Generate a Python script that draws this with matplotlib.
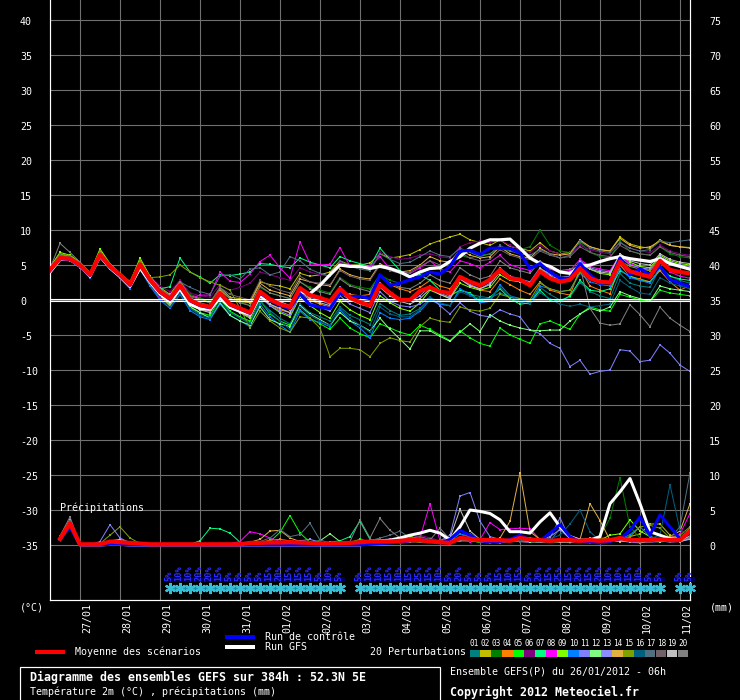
import matplotlib.pyplot as plt
import matplotlib.transforms as mtransforms
from matplotlib.patches import Rectangle
from matplotlib.lines import Line2D
import numpy as np

plt.rcParams['font.family'] = ['DejaVu Sans Mono']

# GEFS run of 26/01/2012 06h, 6-hourly steps up to 384h
hours = np.arange(0, 385, 6)
rain_hours = hours[1:]

day_hours = np.arange(18, 384, 24)
day_labels = ['27/01', '28/01', '29/01', '30/01', '31/01', '01/02', '02/02',
              '03/02', '04/02', '05/02', '06/02', '07/02', '08/02', '09/02',
              '10/02', '11/02']

temp_ticks = list(range(-35, 41, 5))
rain_ticks = list(range(0, 76, 5))
rain_offset = -35  # 0 mm sits on the -35 degC line

# --- 2m temperature (degC) ---
t_mean = [4.3, 6.0, 5.9, 5.0, 3.6, 6.5, 4.8, 3.6, 2.2,
          5.1, 2.9, 1.2, 0.2, 2.1, 0.0, -0.7, -1.0,
          1.0, -0.6, -1.2, -1.8, 1.2, 0.1, -0.6, -1.0,
          1.7, 0.7, 0.3, -0.2, 1.6, 0.3, -0.3, -0.8,
          2.2, 1.0, 0.0, 0.0, 1.3, 1.8, 1.2, 1.0,
          3.3, 2.6, 2.1, 2.9, 4.3, 3.1, 2.9, 2.1,
          4.1, 3.1, 2.6, 2.9, 4.5, 3.1, 2.6, 2.5,
          5.5, 4.1, 3.7, 3.3, 5.6, 4.3, 4.0, 3.8]
t_control = [4.2, 5.9, 5.8, 4.9, 3.5, 6.4, 4.7, 3.5, 2.1,
             5.0, 2.8, 1.1, 0.1, 2.0, -0.1, -0.8, -1.1,
             0.9, -0.7, -1.3, -1.9, 1.0, 0.0, -0.8, -1.2,
             0.9, -0.7, -1.0, -1.2, 1.0, 0.5, 0.5, 0.2,
             3.6, 2.1, 2.4, 2.9, 3.3, 4.0, 3.7, 4.8,
             7.0, 7.1, 6.5, 7.4, 7.4, 7.4, 6.7, 4.5,
             5.2, 4.0, 3.1, 3.1, 5.2, 3.6, 2.4, 2.6,
             6.0, 3.6, 4.5, 3.6, 4.8, 2.9, 2.4, 1.9]
t_gfs = [4.0, 5.8, 5.8, 4.9, 3.4, 6.3, 4.6, 3.4, 2.0,
         4.6, 2.6, 0.9, -0.2, 1.6, -0.6, -1.2, -1.3,
         0.3, -1.0, -1.6, -2.0, 0.6, 0.0, -0.4, -1.0,
         1.2, 0.9, 2.1, 3.6, 5.0, 4.8, 4.8, 4.5,
         4.8, 4.5, 4.0, 3.3, 4.0, 4.5, 4.6, 5.5,
         6.2, 7.4, 8.1, 8.6, 8.6, 8.7, 7.4, 6.0,
         5.2, 4.8, 4.0, 3.8, 4.8, 5.0, 5.5, 5.9,
         6.2, 5.9, 5.7, 5.5, 5.9, 5.2, 4.8, 4.4]

t_p01 = [4.0, 5.8, 5.7, 4.8, 3.3, 6.2, 4.5, 3.2, 1.7,
         4.6, 2.2, 0.2, -0.9, 1.0, -1.2, -2.0, -2.4,
         -0.3, -1.8, -2.5, -3.2, -0.2, -1.5, -2.6, -3.4,
         -0.6, -1.8, -2.4, -3.0, -1.0, -2.2, -2.8, -3.5,
         -0.5, -1.5, -2.2, -2.0, -1.2, 0.2, -0.6, -0.8,
         1.5, 0.8, 0.5, 0.3, 1.0, 0.5, -0.3, -0.6,
         1.8, 0.8, 0.0, 0.4, 2.5, 1.2, 0.6, 0.2,
         3.8, 2.4, 2.0, 1.8, 4.6, 3.4, 2.8, 2.4]
t_p02 = [4.6, 6.5, 6.2, 5.2, 3.8, 6.8, 5.0, 3.8, 2.6,
         5.4, 3.2, 1.8, 0.8, 2.8, 0.6, 0.2, -0.4,
         1.8, 0.4, 0.2, -0.3, 2.6, 2.2, 2.0, 1.6,
         3.8, 3.4, 3.6, 4.0, 5.6, 5.0, 5.0, 5.3,
         6.6, 6.0, 6.2, 6.5, 7.2, 8.0, 8.5, 9.0,
         9.4, 8.6, 8.2, 7.8, 8.6, 7.6, 7.4, 7.0,
         8.2, 7.0, 6.6, 6.8, 8.4, 7.6, 7.2, 7.0,
         9.0, 8.0, 7.6, 7.4, 8.6, 7.8, 7.6, 7.5]
t_p03 = [4.2, 5.9, 5.8, 4.9, 3.5, 6.4, 4.7, 3.4, 2.0,
         5.0, 2.8, 1.4, 0.4, 2.4, 0.8, 0.3, -0.2,
         1.6, 0.2, -0.2, -0.8, 1.8, 1.0, 0.6, 0.2,
         2.6, 1.8, 1.4, 1.0, 3.2, 2.2, 1.8, 1.6,
         3.6, 2.8, 2.4, 2.8, 3.6, 4.6, 4.8, 5.0,
         6.4, 6.0, 6.4, 6.6, 7.4, 7.0, 7.2, 7.6,
         10.0, 7.8, 7.0, 6.8, 8.2, 6.8, 6.2, 6.0,
         8.4, 7.0, 6.6, 6.4, 7.6, 6.6, 6.2, 6.0]
t_p04 = [4.5, 6.2, 6.0, 5.1, 3.7, 6.6, 4.9, 3.5, 2.1,
         4.9, 2.4, 0.6, -0.8, 1.6, -0.6, -1.4, -1.6,
         0.6, -1.0, -1.6, -2.2, 0.6, -0.6, -1.4, -1.8,
         1.0, 0.0, -0.6, -1.0, 1.2, 0.8, 0.6, 0.8,
         3.4, 2.2, 1.6, 1.2, 1.8, 2.8, 2.0, 1.6,
         3.4, 2.2, 1.4, 1.2, 3.0, 2.2, 1.4, 0.8,
         2.6, 1.4, 1.0, 0.7, 4.5, 2.0, 1.4, 0.9,
         5.0, 3.4, 3.0, 2.6, 4.2, 2.6, 1.4, 2.1]
t_p05 = [4.4, 6.6, 6.2, 5.3, 3.9, 7.0, 5.0, 3.8, 2.6,
         5.6, 2.8, 0.8, -0.6, 1.4, -0.9, -1.8, -2.2,
         0.2, -1.6, -2.4, -3.0, 0.0, -2.0, -3.0, -3.6,
         -1.4, -2.6, -3.4, -4.2, -2.6, -4.0, -4.8, -5.4,
         -3.4, -4.0, -4.6, -5.0, -3.6, -4.2, -5.0, -5.8,
         -4.4, -5.4, -6.2, -6.6, -4.0, -5.0, -5.6, -6.2,
         -3.4, -3.0, -3.6, -4.2, -2.0, -1.0, -1.4, -1.6,
         0.8, 0.4, 0.0, -0.2, 1.4, 1.0, 0.8, 0.6]
t_p06 = [4.6, 6.3, 6.1, 5.2, 3.8, 6.7, 5.0, 3.9, 2.5,
         5.4, 3.4, 2.0, 1.2, 2.8, 1.0, 0.6, 0.4,
         2.2, 1.4, 1.8, 2.4, 4.0, 3.6, 3.2, 2.8,
         4.6, 4.0, 3.6, 3.4, 5.4, 5.0, 4.8, 5.0,
         6.8, 6.2, 5.8, 6.0, 6.4, 6.6, 6.2, 6.0,
         7.6, 8.2, 8.4, 8.2, 8.6, 7.8, 7.2, 6.8,
         7.8, 7.0, 6.6, 6.4, 7.8, 7.2, 6.8, 6.6,
         8.2, 7.4, 7.0, 6.8, 7.8, 7.0, 6.6, 6.4]
t_p07 = [4.3, 6.1, 6.0, 5.0, 3.7, 6.5, 4.9, 3.6, 2.3,
         5.3, 3.0, 1.6, 1.9, 6.0, 4.0, 3.3, 2.4,
         3.6, 3.5, 3.7, 4.0, 5.2, 5.1, 4.8, 4.6,
         6.0, 5.4, 5.0, 4.6, 6.2, 5.6, 5.2, 4.8,
         7.4, 5.8, 4.2, 3.4, 3.6, 2.8, 1.4, 0.6,
         1.4, 1.0, -0.2, 0.4, 1.6, 0.2, -0.6, -0.4,
         1.4, 0.0, -0.2, 0.6, 2.8, 1.4, 1.2, 1.6,
         4.2, 3.4, 2.8, 2.6, 4.4, 3.4, 3.0, 2.8]
t_p08 = [4.1, 6.2, 6.0, 4.9, 3.3, 6.3, 4.6, 3.2, 1.8,
         4.8, 2.4, 0.2, -0.7, 1.4, 0.2, 0.7, 0.7,
         4.0, 2.7, 2.5, 3.7, 5.5, 6.4, 4.6, 3.1,
         8.3, 5.2, 5.0, 5.1, 7.5, 4.8, 4.6, 4.8,
         6.2, 4.4, 4.0, 3.8, 4.6, 5.6, 4.4, 4.0,
         5.6, 5.2, 4.6, 5.4, 6.4, 5.0, 4.6, 4.2,
         5.6, 4.4, 4.0, 4.2, 5.8, 4.8, 4.4, 4.2,
         6.4, 5.2, 4.6, 4.2, 5.6, 4.0, 3.4, 3.1]
t_p09 = [4.7, 6.8, 6.4, 5.4, 3.9, 7.3, 5.2, 3.8, 2.5,
         6.0, 3.4, 1.6, 0.6, 2.6, 0.2, -0.6, -1.2,
         1.2, -0.8, -1.8, -2.6, 0.6, -0.8, -1.8, -2.4,
         0.4, -0.8, -1.8, -2.6, -0.2, -1.4, -2.2, -2.8,
         0.6, -0.4, -1.2, -1.6, -0.4, 1.4, 0.8, 0.2,
         2.4, 1.8, 1.4, 1.8, 3.6, 2.8, 2.6, 2.4,
         4.4, 3.8, 3.2, 3.4, 5.2, 4.4, 3.8, 3.6,
         6.6, 5.4, 4.8, 4.6, 6.4, 5.6, 5.2, 5.0]
t_p10 = [4.0, 5.7, 5.6, 4.7, 3.2, 6.2, 4.4, 3.1, 1.6,
         4.4, 2.0, 0.0, -1.2, 0.8, -1.5, -2.4, -2.8,
         -0.6, -2.2, -3.0, -3.8, -0.6, -2.4, -3.6, -4.6,
         -1.6, -2.8, -3.2, -3.8, -1.4, -3.0, -4.0, -5.4,
         -1.8, -2.6, -2.8, -2.6, -1.6, 0.0, -0.6, -0.8,
         1.6, 0.8, -0.4, -0.2, 2.2, 0.6, 0.2, -0.4,
         2.0, 1.6, 1.2, 1.4, 3.8, 2.6, 2.2, 2.0,
         4.4, 3.2, 2.8, 2.4, 4.6, 3.0, 2.2, 1.8]
t_p11 = [4.0, 5.8, 5.6, 4.6, 3.3, 6.0, 4.4, 3.2, 1.8,
         4.8, 2.4, 0.8, -0.4, 1.6, -0.4, -1.2, -1.6,
         0.6, -1.0, -1.6, -2.4, 0.4, -0.8, -1.6, -2.2,
         0.8, -0.4, -1.0, -1.6, 0.6, -0.6, -1.2, -1.8,
         1.2, -0.2, -0.8, -1.0, -0.6, 0.4, -0.8, -2.0,
         -0.4, -1.6, -2.2, -2.4, -1.4, -2.0, -2.4, -4.3,
         -4.8, -6.2, -6.9, -9.5, -8.6, -10.6, -10.2, -10.0,
         -7.1, -7.3, -8.8, -8.6, -6.4, -7.6, -9.3, -10.2]
t_p12 = [4.2, 6.0, 5.8, 4.9, 3.5, 6.6, 4.7, 3.5, 2.1,
         5.2, 2.6, 0.6, -0.8, 1.4, -1.0, -1.8, -2.6,
         -0.4, -2.2, -3.0, -3.6, -1.0, -2.8, -3.4, -3.8,
         -0.8, -2.0, -2.8, -3.6, -1.8, -3.0, -3.6, -4.4,
         -2.6, -4.2, -5.6, -7.0, -4.4, -4.4, -5.2, -5.9,
         -4.6, -3.4, -4.5, -2.1, -3.0, -3.6, -4.0, -4.3,
         -4.4, -4.3, -4.3, -3.0, -2.0, -1.2, -1.6, -1.0,
         1.2, 0.6, 0.2, -0.2, 2.0, 1.6, 1.4, 1.2]
t_p13 = [4.4, 6.1, 5.9, 5.0, 3.5, 6.4, 4.7, 3.5, 2.1,
         5.0, 2.7, 1.0, 0.0, 1.8, -0.4, -1.0, -1.4,
         0.8, -0.8, -1.4, -2.0, 0.8, -0.2, -0.8, -1.4,
         1.6, 0.4, 0.0, -0.6, 1.8, 0.4, -0.2, -0.8,
         2.4, 1.0, 0.2, -0.2, 0.6, 2.0, 1.0, 0.4,
         3.0, 2.2, 1.6, 2.4, 4.6, 3.4, 3.0, 2.6,
         4.6, 3.6, 3.2, 3.4, 5.6, 4.6, 4.2, 4.0,
         6.2, 5.0, 4.6, 4.4, 6.2, 5.4, 5.0, 4.8]
t_p14 = [4.5, 6.3, 6.0, 5.1, 3.7, 6.6, 4.9, 3.4, 2.0,
         5.2, 2.8, 0.6, -1.0, 1.8, -0.6, -1.2, -1.4,
         1.4, 0.2, -0.2, -0.4, 2.4, 1.4, 1.0, 0.6,
         3.0, 2.6, 2.2, 2.0, 4.4, 3.6, 3.2, 3.0,
         5.2, 4.4, 4.0, 4.2, 5.0, 6.2, 5.6, 5.4,
         7.2, 6.4, 6.0, 6.2, 7.6, 6.6, 6.2, 6.0,
         7.4, 6.6, 6.4, 6.6, 8.6, 7.6, 7.2, 7.0,
         8.8, 7.8, 7.4, 7.6, 8.4, 7.8, 7.6, 7.4]
t_p15 = [4.6, 6.6, 6.3, 5.3, 3.9, 7.0, 5.1, 3.7, 2.6,
         5.7, 3.2, 3.3, 3.6, 5.0, 4.0, 3.2, 2.6,
         2.1, 1.4, -1.2, -4.0, -1.6, -3.0, -4.0, -4.6,
         -2.4, -2.6, -4.0, -8.1, -6.9, -6.9, -7.1, -8.1,
         -6.2, -5.4, -5.8, -6.0, -3.8, -2.6, -3.0, -3.2,
         -1.0, -1.4, -1.6, -1.2, 0.8, 0.4, 0.2, 0.0,
         2.4, 1.6, 1.2, 1.4, 4.0, 3.2, 2.8, 2.6,
         5.6, 4.8, 4.4, 4.2, 6.0, 5.2, 4.8, 4.6]
t_p16 = [4.2, 5.8, 5.7, 4.8, 3.4, 6.2, 4.6, 3.3, 1.9,
         4.7, 2.3, 0.4, -1.0, 1.0, -1.2, -2.2, -2.6,
         -0.2, -1.8, -2.6, -3.4, 0.0, -1.8, -3.0, -4.2,
         -1.0, -2.2, -3.0, -3.6, -1.2, -2.6, -3.6, -4.6,
         -1.0, -2.0, -2.4, -2.4, -1.4, 0.4, -0.4, -0.8,
         1.2, 0.6, 0.2, 0.2, 1.8, 0.6, 0.0, -0.4,
         1.0, 0.2, -0.6, -0.9, -0.6, -1.0, -0.8, -0.6,
         2.8, 1.8, 1.0, 0.8, 3.2, 2.4, 2.0, 1.6]
t_p17 = [4.4, 6.4, 6.1, 5.1, 3.8, 6.6, 4.9, 3.7, 2.4,
         5.4, 3.2, 1.6, 0.6, 2.6, 1.8, 1.2, 0.8,
         3.4, 3.6, 3.0, 4.4, 4.6, 3.6, 4.0, 6.2,
         5.6, 4.4, 3.8, 3.4, 5.6, 4.8, 4.4, 4.2,
         6.6, 5.8, 5.2, 5.4, 6.2, 7.0, 6.4, 6.2,
         7.4, 6.8, 6.2, 6.6, 7.8, 7.0, 6.6, 6.4,
         7.2, 6.6, 6.0, 6.4, 8.4, 7.4, 7.0, 6.8,
         8.2, 7.4, 7.0, 7.2, 8.4, 8.2, 8.4, 8.6]
t_p18 = [4.3, 6.2, 6.0, 5.0, 3.6, 6.5, 4.8, 3.6, 2.3,
         5.1, 3.0, 1.4, 0.4, 2.4, 0.6, 0.0, -0.4,
         1.8, 0.8, 0.4, 0.0, 2.8, 2.0, 1.4, 1.0,
         3.4, 2.6, 2.4, 2.2, 4.2, 3.4, 3.0, 2.8,
         5.0, 4.2, 3.8, 4.0, 4.8, 5.6, 5.0, 4.8,
         6.8, 6.0, 5.6, 5.8, 7.2, 6.4, 6.0, 5.8,
         7.0, 6.4, 6.0, 6.2, 7.6, 6.8, 6.4, 6.2,
         7.8, 7.0, 6.6, 6.4, 7.6, 6.8, 6.4, 6.2]
t_p19 = [4.2, 6.0, 5.8, 4.8, 3.4, 6.3, 4.6, 3.3, 1.9,
         4.8, 2.6, 0.8, -0.4, 1.6, -0.6, -1.4, -1.8,
         0.4, -1.2, -1.8, -2.4, 0.4, -0.6, -1.2, -1.8,
         1.2, 0.2, -0.4, -0.8, 1.0, 0.0, -0.6, -1.0,
         1.8, 0.6, -0.2, -0.6, 0.2, 1.6, 0.8, 0.2,
         3.0, 2.0, 1.6, 2.2, 4.0, 3.0, 2.6, 2.2,
         4.4, 3.4, 3.0, 3.2, 5.4, 4.4, 4.0, 3.8,
         6.6, 5.6, 5.2, 5.0, 6.6, 5.8, 5.4, 5.2]
t_p20 = [4.5, 8.1, 6.8, 5.4, 3.8, 6.9, 5.0, 3.7, 2.4,
         5.4, 3.2, 1.6, 0.6, 2.6, 0.4, -0.4, -0.8,
         1.6, 0.2, -0.4, -0.8, 2.0, 1.0, 0.6, 0.2,
         2.6, 1.6, 1.2, 0.8, 3.0, 2.0, 1.6, 1.2,
         3.6, 2.4, 1.8, 1.6, 2.4, 3.6, 2.8, 2.4,
         4.6, 3.6, 3.0, 3.4, 5.6, 4.6, 4.2, 3.8,
         5.6, 4.6, 4.2, 4.4, 4.8, -1.2, -3.3, -3.6,
         -3.4, -0.7, -2.1, -3.8, -1.0, -2.6, -3.6, -4.5]

# --- 6h precipitation (mm), from +6h ---
r_mean = [0.9, 3.1, 0.1, 0.1, 0.1, 0.5, 0.4, 0.3,
          0.2, 0.1, 0.1, 0.1, 0.1, 0.1, 0.1, 0.1,
          0.1, 0.1, 0.1, 0.3, 0.3, 0.35, 0.35, 0.4,
          0.35, 0.3, 0.2, 0.2, 0.25, 0.3, 0.4, 0.5,
          0.5, 0.5, 0.6, 0.7, 0.7, 0.5, 0.4, 0.3,
          1.0, 0.9, 0.7, 0.7, 0.7, 0.6, 1.0, 0.8,
          0.7, 0.6, 0.7, 0.7, 0.6, 0.7, 0.6, 0.7,
          1.0, 0.7, 0.7, 0.7, 0.8, 0.7, 0.7, 2.0]
r_control = [0.8, 2.6, 0.0, 0.0, 0.0, 0.1, 0.1, 0.0,
             0.0, 0.0, 0.0, 0.0, 0.0, 0.0, 0.0, 0.0,
             0.0, 0.0, 0.0, 0.0, 0.0, 0.0, 0.0, 0.0,
             0.0, 0.0, 0.0, 0.0, 0.0, 0.0, 0.0, 0.1,
             0.2, 0.3, 0.4, 0.6, 0.8, 0.6, 0.3, 0.8,
             2.1, 1.4, 0.6, 0.4, 0.5, 0.8, 1.4, 0.7,
             0.6, 1.7, 2.9, 1.2, 0.5, 0.4, 0.3, 0.5,
             0.9, 2.1, 4.0, 1.4, 4.3, 2.6, 0.9, 1.6]
r_gfs = [0.8, 2.8, 0.0, 0.0, 0.0, 0.1, 0.1, 0.0,
         0.0, 0.0, 0.0, 0.0, 0.0, 0.0, 0.0, 0.0,
         0.0, 0.0, 0.0, 0.0, 0.0, 0.0, 0.0, 0.0,
         0.0, 0.0, 0.0, 0.0, 0.0, 0.0, 0.0, 0.5,
         0.6, 0.7, 1.0, 1.4, 1.7, 2.1, 1.7, 0.7,
         2.6, 5.0, 4.8, 4.5, 3.6, 1.9, 1.9, 1.7,
         3.3, 4.6, 2.6, 1.2, 0.7, 0.7, 1.2, 5.9,
         7.6, 9.5, 5.9, 1.9, 1.4, 0.9, 0.7, 1.6]

r_p01 = [1.0, 2.9, 0.1, 0.0, 0.0, 0.3, 0.4, 0.2,
         0.1, 0.0, 0.0, 0.0, 0.0, 0.1, 0.1, 0.1,
         0.1, 0.0, 0.0, 0.2, 0.3, 0.2, 0.4, 0.3,
         0.2, 0.1, 0.1, 0.0, 0.1, 0.2, 0.3, 0.4,
         0.6, 0.5, 0.4, 0.8, 1.0, 0.6, 0.3, 0.2,
         1.2, 1.6, 0.8, 0.4, 0.3, 0.6, 1.2, 0.7,
         0.5, 0.4, 0.6, 0.8, 0.5, 0.4, 0.3, 0.6,
         1.0, 0.5, 0.4, 0.6, 0.8, 0.5, 0.6, 1.4]
r_p02 = [1.1, 3.3, 0.1, 0.0, 0.0, 0.5, 0.6, 0.3,
         0.1, 0.0, 0.0, 0.0, 0.0, 0.0, 0.1, 0.0,
         0.0, 0.1, 0.1, 0.2, 0.4, 0.6, 0.3, 0.2,
         0.4, 0.3, 0.2, 0.1, 0.2, 0.3, 0.4, 0.3,
         0.4, 0.6, 0.8, 0.5, 0.4, 0.6, 0.3, 0.4,
         0.8, 0.6, 0.4, 0.3, 0.5, 0.8, 1.0, 0.6,
         0.4, 0.6, 0.5, 0.4, 0.6, 1.0, 0.8, 0.5,
         0.6, 1.2, 1.6, 3.0, 3.0, 1.4, 0.8, 1.2]
r_p03 = [0.9, 2.6, 0.0, 0.0, 0.0, 0.3, 0.3, 0.2,
         0.1, 0.0, 0.0, 0.0, 0.0, 0.0, 0.1, 0.1,
         0.0, 0.0, 0.1, 0.1, 0.2, 0.2, 0.1, 0.2,
         0.3, 0.2, 0.1, 0.1, 0.2, 0.2, 0.3, 0.2,
         0.4, 0.5, 0.8, 1.0, 1.2, 0.7, 0.5, 0.3,
         0.6, 0.8, 0.6, 0.5, 0.6, 0.5, 0.7, 0.6,
         0.8, 0.6, 0.5, 0.4, 0.7, 0.6, 1.2, 3.8,
         9.6, 2.6, 1.0, 0.6, 0.4, 0.6, 0.8, 1.8]
r_p04 = [1.0, 3.0, 0.1, 0.0, 0.0, 0.4, 0.5, 0.2,
         0.1, 0.0, 0.0, 0.0, 0.0, 0.0, 0.0, 0.1,
         0.1, 0.1, 0.0, 0.1, 0.3, 0.7, 0.8, 0.6,
         0.4, 0.2, 0.1, 0.1, 0.2, 0.3, 0.2, 0.3,
         0.5, 0.4, 0.5, 0.6, 0.7, 0.5, 0.4, 0.3,
         0.7, 0.9, 0.6, 0.5, 0.4, 0.6, 0.8, 0.5,
         0.4, 0.5, 0.6, 0.8, 0.6, 0.5, 0.4, 0.5,
         0.7, 0.5, 0.6, 0.8, 0.9, 1.2, 1.0, 2.4]
r_p05 = [1.1, 3.2, 0.1, 0.0, 0.0, 0.4, 0.5, 0.3,
         0.1, 0.0, 0.0, 0.0, 0.0, 0.1, 0.1, 0.1,
         0.2, 0.1, 0.1, 0.2, 0.3, 0.5, 1.8, 4.2,
         1.7, 0.4, 0.2, 0.3, 0.2, 0.4, 0.8, 0.5,
         0.6, 0.4, 0.5, 0.8, 0.9, 0.5, 0.3, 0.4,
         0.8, 0.6, 0.4, 0.5, 0.6, 0.7, 0.5, 0.4,
         0.6, 0.5, 0.4, 0.6, 0.5, 0.4, 0.6, 0.8,
         0.9, 0.6, 0.8, 0.6, 0.9, 0.7, 1.0, 1.6]
r_p06 = [0.9, 2.7, 0.0, 0.0, 0.0, 0.3, 0.3, 0.2,
         0.0, 0.0, 0.0, 0.0, 0.0, 0.0, 0.1, 0.0,
         0.1, 0.0, 0.1, 0.1, 0.2, 0.3, 0.4, 0.3,
         0.5, 0.3, 0.2, 0.1, 0.3, 0.2, 0.3, 0.5,
         0.6, 0.4, 0.5, 0.9, 1.4, 1.0, 0.6, 0.5,
         0.8, 0.6, 0.5, 0.6, 0.8, 0.6, 0.5, 0.4,
         0.5, 0.6, 0.4, 0.3, 0.5, 0.6, 0.4, 0.5,
         0.6, 0.5, 0.4, 0.6, 0.7, 0.5, 0.6, 1.0]
r_p07 = [1.0, 3.0, 0.1, 0.0, 0.0, 0.3, 0.4, 0.2,
         0.1, 0.0, 0.0, 0.0, 0.0, 0.1, 0.6, 2.4,
         2.3, 1.7, 0.4, 0.2, 0.3, 0.2, 0.3, 0.2,
         0.3, 0.2, 0.1, 0.4, 0.6, 1.2, 3.4, 0.8,
         0.6, 0.5, 0.8, 0.6, 0.5, 0.4, 0.6, 0.3,
         0.9, 1.2, 0.6, 0.5, 0.4, 0.6, 0.9, 1.0,
         0.6, 0.5, 0.4, 0.5, 0.6, 0.4, 0.5, 0.7,
         0.8, 0.6, 0.5, 0.7, 0.6, 0.8, 0.9, 1.4]
r_p08 = [1.0, 2.9, 0.0, 0.0, 0.0, 0.2, 0.3, 0.2,
         0.1, 0.0, 0.0, 0.0, 0.0, 0.0, 0.1, 0.1,
         0.1, 0.2, 0.5, 1.9, 1.6, 1.0, 0.5, 0.3,
         0.2, 0.3, 0.2, 0.1, 0.2, 0.3, 0.2, 0.4,
         0.6, 0.8, 0.7, 0.9, 1.0, 5.9, 0.6, 0.4,
         0.6, 0.5, 0.8, 3.2, 2.2, 2.3, 2.4, 2.3,
         0.8, 0.6, 0.7, 0.5, 0.6, 0.5, 0.4, 0.6,
         0.7, 0.6, 0.8, 0.6, 0.9, 1.0, 1.6, 4.5]
r_p09 = [1.2, 3.6, 0.1, 0.0, 0.0, 0.6, 0.8, 0.4,
         0.2, 0.1, 0.0, 0.0, 0.0, 0.0, 0.1, 0.1,
         0.2, 0.1, 0.1, 0.2, 0.2, 0.3, 0.4, 0.3,
         0.2, 0.2, 0.3, 0.4, 0.3, 0.2, 0.4, 0.3,
         0.5, 0.6, 0.8, 1.3, 0.7, 0.5, 0.4, 0.8,
         1.0, 0.8, 0.6, 0.4, 0.5, 0.7, 0.6, 0.5,
         0.8, 0.6, 0.5, 0.7, 0.6, 0.5, 0.7, 1.4,
         1.6, 3.6, 2.0, 1.2, 0.8, 0.6, 1.0, 2.0]
r_p10 = [1.0, 2.7, 0.0, 0.0, 0.0, 0.3, 0.4, 0.2,
         0.1, 0.0, 0.0, 0.0, 0.0, 0.0, 0.0, 0.1,
         0.1, 0.1, 0.0, 0.1, 0.2, 0.1, 0.2, 0.3,
         0.2, 0.1, 0.1, 0.0, 0.1, 0.2, 0.3, 0.2,
         0.4, 0.3, 0.5, 0.7, 0.8, 0.5, 0.4, 0.6,
         1.6, 1.2, 0.6, 0.4, 0.3, 0.5, 0.9, 0.6,
         0.4, 0.5, 2.4, 1.0, 0.6, 0.4, 0.5, 0.6,
         0.8, 1.5, 2.6, 1.2, 0.8, 0.6, 0.7, 1.2]
r_p11 = [1.0, 3.0, 0.1, 0.0, 0.5, 2.9, 1.0, 0.3,
         0.1, 0.0, 0.0, 0.0, 0.0, 0.0, 0.1, 0.0,
         0.1, 0.2, 0.1, 0.3, 0.2, 0.1, 0.2, 0.1,
         0.2, 0.1, 0.1, 0.2, 0.3, 0.2, 0.3, 0.4,
         0.5, 0.4, 0.6, 0.7, 0.5, 0.4, 0.6, 1.4,
         7.0, 7.5, 3.4, 1.2, 0.8, 0.6, 0.5, 0.4,
         0.6, 1.0, 3.9, 0.8, 0.4, 0.3, 0.4, 0.5,
         0.6, 0.4, 0.3, 0.5, 0.6, 0.4, 0.5, 0.8]
r_p12 = [1.0, 3.1, 0.1, 0.0, 0.0, 0.4, 0.3, 0.2,
         0.1, 0.0, 0.0, 0.0, 0.0, 0.0, 0.0, 0.1,
         0.1, 0.0, 0.1, 0.1, 0.2, 0.2, 0.3, 0.2,
         0.3, 0.4, 0.6, 1.6, 0.5, 0.3, 0.2, 0.4,
         0.5, 0.4, 0.3, 0.5, 0.6, 0.4, 0.5, 0.4,
         0.8, 0.6, 0.5, 0.4, 0.6, 0.8, 0.6, 0.5,
         0.4, 0.6, 0.5, 0.4, 0.6, 0.8, 0.5, 0.6,
         1.2, 0.8, 0.6, 0.5, 0.7, 0.6, 0.8, 1.2]
r_p13 = [1.0, 2.8, 0.0, 0.0, 0.0, 0.3, 0.4, 0.2,
         0.1, 0.0, 0.0, 0.0, 0.0, 0.0, 0.0, 0.0,
         0.1, 0.1, 0.0, 0.1, 0.2, 0.3, 0.2, 0.4,
         0.6, 0.8, 0.4, 0.2, 0.3, 0.2, 0.3, 0.3,
         0.4, 0.5, 0.3, 0.4, 0.6, 0.5, 0.6, 0.5,
         0.6, 0.7, 0.5, 0.4, 0.5, 0.6, 1.0, 0.8,
         0.7, 1.2, 2.2, 0.9, 0.5, 0.4, 0.5, 0.6,
         0.8, 1.0, 0.6, 0.4, 0.5, 0.6, 0.5, 0.9]
r_p14 = [1.1, 3.2, 0.1, 0.0, 0.0, 0.5, 0.6, 0.3,
         0.1, 0.0, 0.0, 0.0, 0.0, 0.0, 0.0, 0.1,
         0.1, 0.1, 0.2, 0.4, 0.8, 2.0, 2.1, 1.0,
         0.5, 0.3, 0.2, 0.1, 0.2, 0.3, 0.4, 0.3,
         0.5, 0.4, 0.6, 0.5, 0.8, 0.6, 0.5, 0.4,
         0.6, 0.8, 0.7, 0.6, 1.0, 3.4, 10.3, 1.9,
         0.8, 0.6, 0.5, 0.6, 0.8, 5.9, 3.5, 0.7,
         0.5, 0.6, 0.4, 0.5, 0.8, 1.2, 2.0, 5.9]
r_p15 = [1.1, 3.4, 0.1, 0.0, 0.2, 1.4, 2.6, 1.0,
         0.2, 0.1, 0.0, 0.0, 0.0, 0.1, 0.1, 0.1,
         0.1, 0.1, 0.2, 0.2, 0.3, 0.2, 0.3, 0.2,
         0.2, 0.3, 0.2, 0.1, 0.2, 0.3, 0.4, 0.5,
         0.8, 0.6, 0.5, 0.6, 0.7, 0.5, 0.4, 0.6,
         0.9, 0.7, 0.6, 0.5, 0.8, 0.6, 0.5, 0.6,
         0.6, 0.5, 0.7, 0.9, 0.6, 0.8, 1.0, 0.9,
         0.8, 1.2, 2.6, 2.8, 2.4, 1.0, 1.4, 2.6]
r_p16 = [1.0, 2.8, 0.0, 0.0, 0.0, 0.3, 0.3, 0.2,
         0.1, 0.0, 0.0, 0.0, 0.0, 0.0, 0.0, 0.0,
         0.0, 0.1, 0.1, 0.2, 0.1, 0.2, 0.3, 0.2,
         0.3, 0.2, 0.1, 0.1, 0.2, 0.3, 0.2, 0.3,
         0.4, 0.5, 0.4, 0.6, 0.8, 0.6, 0.5, 0.4,
         0.7, 0.6, 0.5, 0.4, 0.6, 0.5, 0.7, 0.6,
         0.8, 0.9, 1.4, 3.0, 5.0, 1.9, 0.6, 0.5,
         0.6, 0.5, 0.7, 0.9, 1.4, 8.6, 2.1, 1.6]
r_p17 = [1.1, 3.5, 0.1, 0.0, 0.0, 0.4, 0.5, 0.3,
         0.1, 0.0, 0.0, 0.0, 0.0, 0.0, 0.1, 0.1,
         0.1, 0.1, 0.2, 0.3, 0.5, 1.0, 2.2, 1.2,
         1.5, 3.1, 0.7, 0.3, 0.2, 0.3, 0.4, 0.6,
         1.0, 1.4, 2.0, 1.0, 0.6, 0.5, 0.7, 0.4,
         0.6, 0.8, 0.5, 0.4, 0.6, 0.8, 0.5, 0.6,
         0.7, 0.5, 0.6, 0.8, 0.6, 0.5, 0.7, 0.6,
         0.8, 0.6, 0.5, 0.7, 0.8, 1.0, 2.6, 10.3]
r_p18 = [1.0, 3.0, 0.1, 0.0, 0.0, 0.4, 0.3, 0.2,
         0.1, 0.0, 0.0, 0.0, 0.0, 0.0, 0.1, 0.0,
         0.1, 0.1, 0.1, 0.2, 0.3, 0.2, 0.4, 0.3,
         0.2, 0.3, 0.4, 0.3, 0.2, 0.4, 0.5, 0.6,
         0.8, 0.6, 0.7, 1.0, 1.2, 0.8, 0.5, 0.6,
         0.9, 1.1, 0.8, 0.6, 0.7, 0.6, 0.8, 0.7,
         0.6, 0.5, 0.7, 0.6, 0.5, 0.6, 0.5, 0.7,
         0.6, 0.8, 0.7, 0.5, 0.6, 0.8, 0.7, 1.1]
r_p19 = [1.0, 2.9, 0.0, 0.0, 0.0, 0.3, 0.3, 0.2,
         0.1, 0.0, 0.0, 0.0, 0.0, 0.0, 0.0, 0.0,
         0.1, 0.0, 0.1, 0.1, 0.2, 0.1, 0.2, 0.3,
         0.2, 0.1, 0.2, 0.1, 0.2, 0.3, 0.2, 0.3,
         0.4, 0.5, 0.6, 0.8, 0.7, 0.6, 0.5, 1.0,
         5.1, 2.0, 0.8, 0.5, 0.6, 0.7, 1.2, 0.8,
         0.5, 0.6, 0.4, 0.5, 0.6, 0.5, 0.4, 0.5,
         0.6, 0.5, 0.7, 0.6, 0.5, 0.6, 0.5, 0.9]
r_p20 = [1.3, 4.0, 0.1, 0.0, 0.0, 0.5, 0.6, 0.3,
         0.1, 0.0, 0.0, 0.0, 0.0, 0.0, 0.1, 0.1,
         0.1, 0.1, 0.2, 0.2, 0.3, 0.4, 0.3, 0.4,
         0.5, 0.4, 0.3, 0.2, 0.3, 0.5, 3.6, 1.0,
         3.8, 2.1, 1.0, 0.6, 0.5, 0.7, 2.4, 0.8,
         0.6, 0.7, 0.5, 0.4, 0.6, 0.8, 0.9, 0.7,
         0.6, 0.5, 0.7, 0.6, 0.8, 0.6, 0.5, 0.6,
         0.7, 0.6, 0.5, 0.7, 0.6, 0.5, 0.6, 1.0]

member_temps = [t_p01, t_p02, t_p03, t_p04, t_p05, t_p06, t_p07, t_p08, t_p09, t_p10,
                t_p11, t_p12, t_p13, t_p14, t_p15, t_p16, t_p17, t_p18, t_p19, t_p20]
member_rain = [r_p01, r_p02, r_p03, r_p04, r_p05, r_p06, r_p07, r_p08, r_p09, r_p10,
               r_p11, r_p12, r_p13, r_p14, r_p15, r_p16, r_p17, r_p18, r_p19, r_p20]
member_ids = ['01', '02', '03', '04', '05', '06', '07', '08', '09', '10',
              '11', '12', '13', '14', '15', '16', '17', '18', '19', '20']
member_colors = ['#008080', '#c0c000', '#008000', '#ff8000', '#00ff00',
                 '#800080', '#00ff80', '#ff00ff', '#80ff00', '#0080ff',
                 '#8080ff', '#80ff80', '#8c8cff', '#e0b040', '#80a000',
                 '#006080', '#507080', '#706068', '#c0c0c0', '#808080']

# snow probability blocks (hours, %)
snow_hours = [list(range(72, 175, 6)), list(range(186, 367, 6)), [378, 384]]
snow_pct = [[5, 10, 10, 20, 20, 15, 5, 5, 5, 5, 15, 20, 15, 15, 15, 5, 10, 5],
            [5, 10, 10, 15, 10, 15, 25, 15, 10, 5, 20, 5, 5, 5, 15, 10,
             15, 5, 20, 15, 25, 15, 20, 15, 20, 10, 10, 15, 10, 5, 5],
            [5, 5]]

# ---------------------------------------------------------------
W, H, DPI = 740, 700, 100
gridcolor = '#707070'
px = 0.72  # one pixel in points


def fx(x):
    return x / W


def fy(y):
    return 1 - y / H


def pix_to_temp(y):
    # plot area: y pixel 0..600 <-> +300/7..-300/7 degC
    return (300 - y) / 7.0


fig = plt.figure(figsize=(W / DPI, H / DPI), dpi=DPI, facecolor='black')
ax = fig.add_axes([fx(50), 100 / H, 640 / W, 600 / H])
ax.set_facecolor('black')
ax.set_xlim(0, 384)
ax.set_ylim(-300 / 7, 300 / 7)
ax.set_xticks([])
ax.set_yticks([])
for side in ['left', 'right', 'bottom']:
    ax.spines[side].set_color('white')
    ax.spines[side].set_linewidth(1.2 * px)
ax.spines['top'].set_visible(False)

for t in temp_ticks:
    ax.axhline(t, color=gridcolor, lw=1.1 * px, zorder=1)
for h in day_hours:
    ax.axvline(h, color=gridcolor, lw=1.1 * px, zorder=1)

# double 0 degC line
ax.axhline(0.12, color='white', lw=1.1 * px, zorder=2.5)
ax.axhline(-0.18, color='white', lw=1.1 * px, zorder=2.5)

for temps, rain, col in zip(member_temps, member_rain, member_colors):
    ax.plot(hours, temps, color=col, lw=1.0 * px, marker='s', ms=1.5, mew=0, zorder=2)
    ax.plot(rain_hours, np.array(rain) + rain_offset, color=col, lw=1.0 * px,
            marker='s', ms=1.5, mew=0, zorder=2)

ax.plot(hours, t_gfs, color='white', lw=3.2 * px, zorder=3)
ax.plot(hours, t_control, color='#0000ff', lw=3.2 * px, zorder=4)
ax.plot(hours, t_mean, color='#ff0000', lw=4.2 * px, zorder=5)
ax.plot(rain_hours, np.array(r_gfs) + rain_offset, color='white', lw=3.0 * px, zorder=3)
ax.plot(rain_hours, np.array(r_control) + rain_offset, color='#0000ff', lw=3.0 * px, zorder=4)
ax.plot(rain_hours, np.array(r_mean) + rain_offset, color='#ff0000', lw=4.2 * px, zorder=5)

ax.text(6, pix_to_temp(508), 'Précipitations', color='white', fontsize=7.2,
        va='center', ha='left', zorder=6)

# snow probability row
band_lo, band_hi = pix_to_temp(582), pix_to_temp(577)
flake_y = pix_to_temp(588)
for hs, pcts in zip(snow_hours, snow_pct):
    ax.add_patch(Rectangle((hs[0] - 3, band_lo), hs[-1] - hs[0] + 6, band_hi - band_lo,
                           color='#00005a', lw=0, zorder=6, clip_on=False))
    ax.plot(hs, [flake_y] * len(hs), color='#1b8fa8', lw=2.0, zorder=7, clip_on=False)
    ax.plot(hs, [flake_y] * len(hs), ls='none', marker=(6, 2, 0), ms=8,
            mec='#38bcd4', mew=1.6, zorder=8, clip_on=False)
    for h, p in zip(hs, pcts):
        ax.text(h - 0.6, band_lo + 0.1, '%d%%' % p, rotation=90, ha='center',
                va='bottom', color='#2a2aff', fontsize=6.2, fontweight='bold',
                zorder=9, clip_on=False)

# y labels on both sides
ytrans = ax.get_yaxis_transform()
for t, mm in zip(temp_ticks, rain_ticks):
    ax.text(-30 / 640, t - 0.35, str(t), transform=ytrans, ha='left', va='center',
            color='white', fontsize=7.2)
    ax.text(1 + 19 / 640, t - 0.35, str(mm), transform=ytrans, ha='left', va='center',
            color='white', fontsize=7.2)

# date labels, rotated under each day line
xtrans = mtransforms.blended_transform_factory(ax.transData, ax.transAxes)
xtrans = mtransforms.offset_copy(xtrans, fig=fig, x=7, y=-3, units='dots')
for h, lab in zip(day_hours, day_labels):
    ax.text(h, 0, lab, transform=xtrans, rotation=90, ha='center', va='top',
            color='white', fontsize=7.2)

fig.text(fx(20), fy(607), '(°C)', color='white', fontsize=7.2, va='center')
fig.text(fx(710), fy(607), '(mm)', color='white', fontsize=7.2, va='center')


# legend
def legend_bar(x0, x1, y, color):
    fig.add_artist(Line2D([fx(x0), fx(x1)], [fy(y), fy(y)], color=color,
                          lw=4 * px, transform=fig.transFigure, solid_capstyle='butt'))


legend_bar(35, 65, 652, '#ff0000')
fig.text(fx(75), fy(652), 'Moyenne des scénarios', color='white', fontsize=7.2, va='center')
legend_bar(225, 255, 637, '#0000ff')
fig.text(fx(265), fy(637), 'Run de contrôle', color='white', fontsize=7.2, va='center')
legend_bar(225, 255, 647, 'white')
fig.text(fx(265), fy(647), 'Run GFS', color='white', fontsize=7.2, va='center')
fig.text(fx(370), fy(652), '20 Perturbations', color='white', fontsize=7.2, va='center')

for k, (mid, col) in enumerate(zip(member_ids, member_colors)):
    x0 = 469.5 + 10.98 * k
    fig.add_artist(Rectangle((fx(x0), fy(656.5)), 10.3 / W, 6.5 / H, color=col,
                             lw=0, transform=fig.transFigure))
    fig.text(fx(x0 + 5), fy(644), mid, color='white', fontsize=5.6,
             ha='center', va='center')

# footer
fig.add_artist(Rectangle((fx(20), -0.01), 420 / W, (700 - 667) / H + 0.01, fill=False,
                         ec='white', lw=1.2 * px, transform=fig.transFigure))
fig.text(fx(30), fy(677), 'Diagramme des ensembles GEFS sur 384h : 52.3N 5E',
         color='white', fontsize=8.4, fontweight='bold', va='center')
fig.text(fx(30), fy(692), 'Température 2m (°C) , précipitations (mm)',
         color='white', fontsize=7.2, va='center')
fig.text(fx(450), fy(672), 'Ensemble GEFS(P) du 26/01/2012 - 06h',
         color='white', fontsize=7.2, va='center')
fig.text(fx(450), fy(692), 'Copyright 2012 Meteociel.fr',
         color='white', fontsize=8.4, fontweight='bold', va='center')

fig.savefig('out.png', dpi=DPI, facecolor='black')
